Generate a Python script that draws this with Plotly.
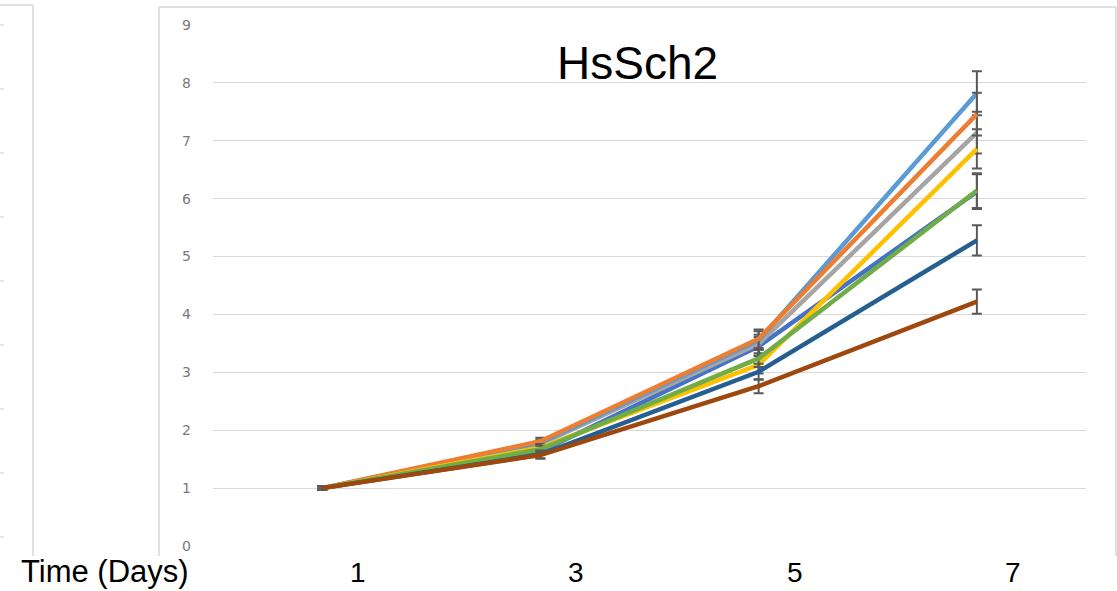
import plotly.graph_objects as go

# ---- data ----
days = ["1", "3", "5", "7"]
series_names = ["Series1", "Series2", "Series3", "Series4",
                "Series5", "Series6", "Series7", "Series8"]
s1 = [1.00, 1.63, 3.45, 6.12]
s2 = [1.00, 1.81, 3.58, 7.46]
s3 = [1.00, 1.76, 3.49, 7.14]
s4 = [1.00, 1.70, 3.13, 6.86]
s5 = [1.00, 1.78, 3.55, 7.82]
s6 = [1.00, 1.67, 3.24, 6.14]
s7 = [1.00, 1.58, 3.01, 5.28]
s8 = [1.00, 1.57, 2.76, 4.22]
e1 = [0.03, 0.06, 0.16, 0.30]
e2 = [0.03, 0.06, 0.16, 0.37]
e3 = [0.03, 0.06, 0.16, 0.36]
e4 = [0.03, 0.06, 0.15, 0.34]
e5 = [0.03, 0.06, 0.16, 0.38]
e6 = [0.03, 0.06, 0.15, 0.30]
e7 = [0.03, 0.07, 0.14, 0.26]
e8 = [0.03, 0.06, 0.12, 0.21]
y_ticks = [0, 1, 2, 3, 4, 5, 6, 7, 8, 9]
title_text = "HsSch2"
x_title = "Time (Days)"

values = [s1, s2, s3, s4, s5, s6, s7, s8]
errors = [e1, e2, e3, e4, e5, e6, e7, e8]
colors = ["#4472C4", "#ED7D31", "#A5A5A5", "#FFC000",
          "#5B9BD5", "#70AD47", "#255E91", "#9E480E"]
# Excel drew the light-blue series beneath the orange one
draw_order = [0, 2, 4, 1, 3, 5, 6, 7]

xidx = list(range(len(days)))

fig = go.Figure()
for i in draw_order:
    fig.add_trace(go.Scatter(
        x=xidx, y=values[i], name=series_names[i], mode="lines",
        line=dict(color=colors[i], width=4.5),
        error_y=dict(type="data", array=errors[i], visible=True,
                     color="#595959", thickness=2, width=5),
        showlegend=False,
    ))

W, H = 1117, 591
L, R, T, B = 213, 31, 25, 45
pw, ph = W - L - R, H - T - B


def px(xp):
    return (xp - L) / pw


def py(yp):
    return (H - B - yp) / ph


frame = "#E0E0E0"
shapes = []
# main chart frame (top, left, right)
shapes.append(dict(type="line", xref="paper", yref="paper",
                   x0=px(159), x1=px(1116), y0=py(7), y1=py(7),
                   line=dict(color=frame, width=2)))
shapes.append(dict(type="line", xref="paper", yref="paper",
                   x0=px(159), x1=px(159), y0=py(7), y1=py(556),
                   line=dict(color=frame, width=2)))
shapes.append(dict(type="line", xref="paper", yref="paper",
                   x0=px(1116), x1=px(1116), y0=py(7), y1=py(556),
                   line=dict(color=frame, width=2)))
# neighbouring chart frame (partially visible at left)
shapes.append(dict(type="line", xref="paper", yref="paper",
                   x0=px(0), x1=px(33), y0=py(5), y1=py(5),
                   line=dict(color=frame, width=2)))
shapes.append(dict(type="line", xref="paper", yref="paper",
                   x0=px(33), x1=px(33), y0=py(5), y1=py(556),
                   line=dict(color=frame, width=2)))
for k in range(9):
    yy = 25 + 64 * k
    shapes.append(dict(type="line", xref="paper", yref="paper",
                       x0=px(0), x1=px(4), y0=py(yy), y1=py(yy),
                       line=dict(color="#D0D0D0", width=1)))

annotations = [
    dict(text=title_text, xref="paper", yref="paper",
         x=px(637), y=py(63), xanchor="center", yanchor="middle",
         showarrow=False, font=dict(family="Liberation Sans, Arial", size=46, color="#000000")),
    dict(text=x_title, xref="paper", yref="paper",
         x=px(105), y=py(571), xanchor="center", yanchor="middle",
         showarrow=False, font=dict(family="Liberation Sans, Arial", size=31, color="#000000")),
]
for i, d in enumerate(days):
    annotations.append(dict(text=d, xref="x", yref="paper",
                            x=i, xshift=36, y=py(572), xanchor="center", yanchor="middle",
                            showarrow=False,
                            font=dict(family="Liberation Sans, Arial", size=28, color="#000000")))

fig.update_layout(
    width=W, height=H,
    margin=dict(l=L, r=R, t=T, b=B),
    paper_bgcolor="white", plot_bgcolor="white",
    xaxis=dict(range=[-0.5, len(days) - 0.5], showgrid=False, zeroline=False,
               showticklabels=False, showline=False, ticks=""),
    yaxis=dict(range=[0, 9], tickvals=y_ticks, showgrid=True, gridcolor="#D9D9D9",
               gridwidth=1, zeroline=False, showline=False, ticks="",
               ticklabelstandoff=21,
               tickfont=dict(family="DejaVu Sans", size=14, color="#7A7A7A")),
    shapes=shapes,
    annotations=annotations,
)

fig.write_html("out.html", config={"displayModeBar": False},
               post_script="document.body.style.margin='0';document.body.style.overflow='hidden';")
